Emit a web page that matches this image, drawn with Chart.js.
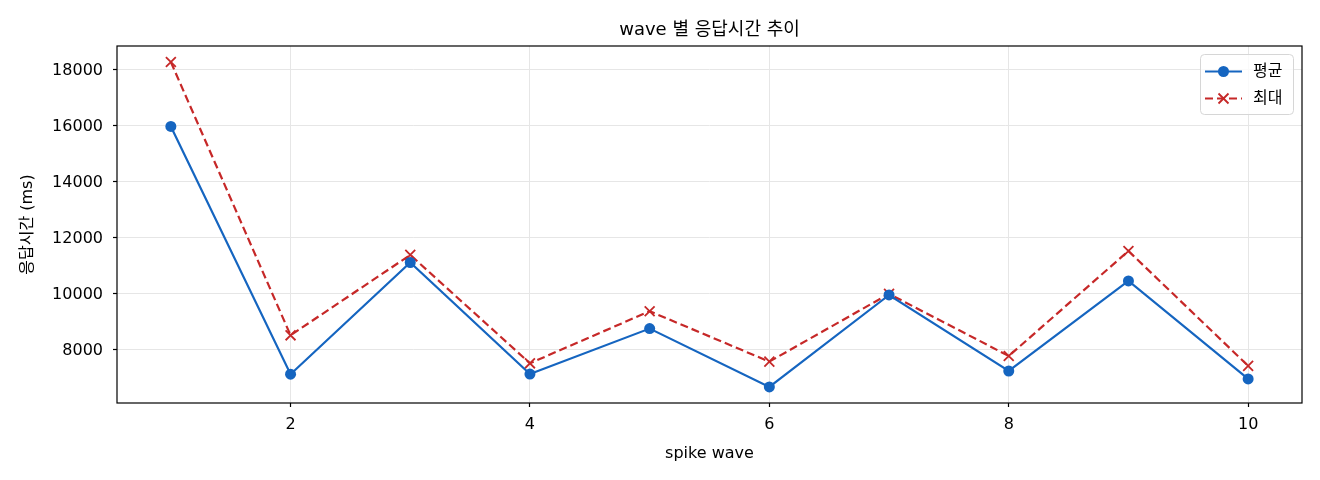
<!DOCTYPE html>
<html><head><meta charset="utf-8">
<script src="https://cdn.jsdelivr.net/npm/chart.js@4.4.0/dist/chart.umd.min.js"></script>
<style>html,body{margin:0;padding:0;background:#fff}#wrap{width:1320px;height:480px}</style>
</head><body><div id="wrap"><canvas id="c"></canvas></div>
<script>
const waves = [1,2,3,4,5,6,7,8,9,10];
const avgValues = [15960,7110,11100,7115,8740,6655,9940,7225,10440,6940];
const maxValues = [18260,8500,11370,7500,9360,7560,9980,7760,11510,7410];
const xTicks = [2,4,6,8,10];
const yTicks = [8000,10000,12000,14000,16000,18000];
const seriesNames = ['평균','최대'];
const chartTitle = 'wave 별 응답시간 추이';
const xTitle = 'spike wave';
const yTitle = '응답시간 (ms)';

const FONT = "'DejaVu Sans', 'Noto Sans CJK KR', sans-serif";
const BLUE = '#1565c0', RED = '#c62828';

const framePlugin = {
  id:'frame',
  afterDraw(chart){
    const {ctx, chartArea:a} = chart;
    ctx.save();
    ctx.strokeStyle='#000'; ctx.lineWidth=1.2;
    ctx.strokeRect(a.left, a.top, a.right-a.left, a.bottom-a.top);
    // title
    ctx.fillStyle='#000'; ctx.font = "18px " + FONT;
    ctx.textAlign='center'; ctx.textBaseline='middle';
    ctx.fillText(chartTitle, (a.left+a.right)/2, 30.5);
    // legend
    const bx = a.right - 102, by = a.top + 8, bw = 93, bh = 60;
    ctx.fillStyle='rgba(255,255,255,0.8)';
    ctx.strokeStyle='#d6d6d6'; ctx.lineWidth=1;
    ctx.beginPath(); ctx.roundRect(bx+0.5, by+0.5, bw, bh, 4); ctx.fill(); ctx.stroke();
    chart.data.datasets.forEach((ds,i)=>{
      const y = by + 17.5 + i*27;
      const x0 = bx + 5, x1 = bx + 42;
      ctx.strokeStyle = ds.borderColor; ctx.lineWidth = ds.borderWidth;
      ctx.setLineDash(ds.borderDash || []);
      ctx.beginPath(); ctx.moveTo(x0,y); ctx.lineTo(x1,y); ctx.stroke();
      ctx.setLineDash([]);
      const mx = (x0+x1)/2;
      if (ds.pointStyle === 'circle'){
        ctx.fillStyle = ds.borderColor; ctx.beginPath(); ctx.arc(mx,y,5.5,0,Math.PI*2); ctx.fill();
      } else {
        ctx.lineWidth = 1.8; ctx.beginPath();
        ctx.moveTo(mx-5,y-5); ctx.lineTo(mx+5,y+5);
        ctx.moveTo(mx+5,y-5); ctx.lineTo(mx-5,y+5); ctx.stroke();
      }
      ctx.fillStyle='#000'; ctx.font = "16px " + FONT;
      ctx.textAlign='left'; ctx.textBaseline='middle';
      ctx.fillText(ds.label, bx + 53, y);
    });
    ctx.restore();
  }
};

new Chart(document.getElementById('c'), {
  type:'line',
  data:{
    datasets:[
      {label:seriesNames[0], data:waves.map((w,i)=>({x:w,y:avgValues[i]})),
       borderColor:BLUE, backgroundColor:BLUE, borderWidth:2.2, pointStyle:'circle',
       pointRadius:5.5, pointBackgroundColor:BLUE, pointBorderWidth:0, tension:0},
      {label:seriesNames[1], data:waves.map((w,i)=>({x:w,y:maxValues[i]})),
       borderColor:RED, backgroundColor:RED, borderWidth:2.2, borderDash:[8,4], pointStyle:'crossRot',
       pointRadius:7, pointBorderColor:RED, pointBorderWidth:1.8, tension:0}
    ]
  },
  options:{
    responsive:true, maintainAspectRatio:false, animation:false, devicePixelRatio:1,
    layout:{padding:{top:46,right:18,left:0,bottom:0}},
    plugins:{legend:{display:false}, tooltip:{enabled:false}, title:{display:false}},
    scales:{
      x:{type:'linear', min:0.55, max:10.45,
         afterBuildTicks(s){ s.ticks = xTicks.map(v=>({value:v})); },
         afterFit(s){ s.height = 77; },
         border:{display:false},
         grid:{color:'#e6e6e6', lineWidth:1, tickColor:'#000', tickLength:4, tickWidth:1.2},
         ticks:{color:'#000', font:{family:FONT, size:16}, padding:8, maxRotation:0},
         title:{display:true, text:xTitle, color:'#000', font:{family:FONT, size:16}, padding:{top:0,bottom:17}}
      },
      y:{type:'linear', min:6082, max:18832,
         afterBuildTicks(s){ s.ticks = yTicks.map(v=>({value:v})); },
         afterFit(s){ s.width = 117; },
         border:{display:false},
         grid:{color:'#e6e6e6', lineWidth:1, tickColor:'#000', tickLength:4, tickWidth:1.2},
         ticks:{color:'#000', font:{family:FONT, size:16}, padding:10, labelOffset:1.5, callback:v=>String(v)},
         title:{display:true, text:yTitle, color:'#000', font:{family:FONT, size:16}, padding:{top:18,bottom:0}}
      }
    }
  },
  plugins:[framePlugin]
});
</script></body></html>
